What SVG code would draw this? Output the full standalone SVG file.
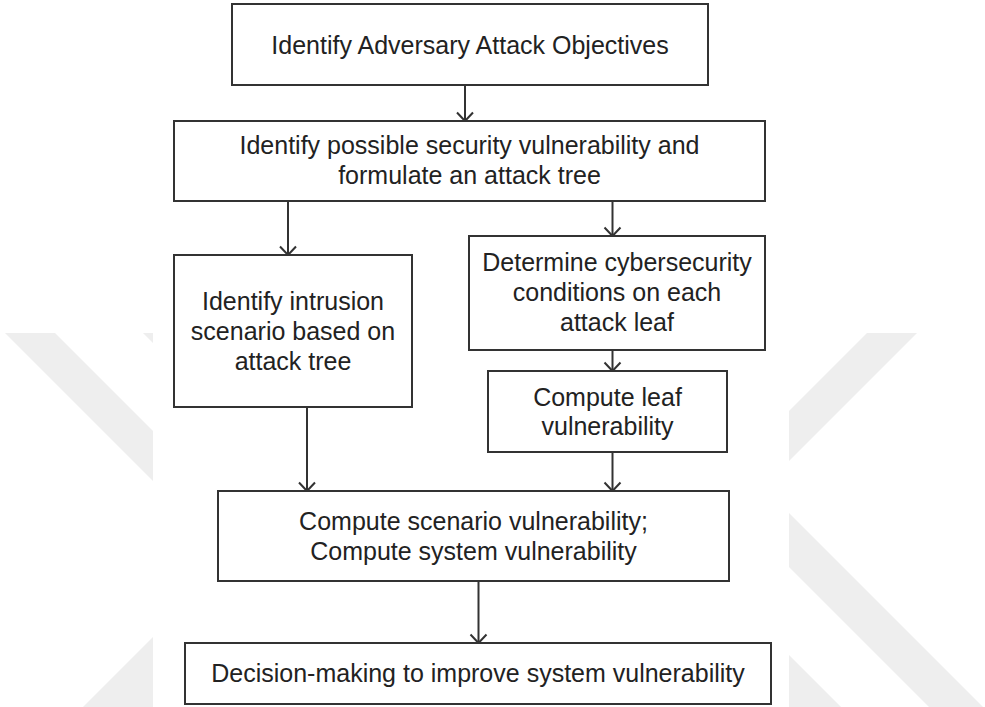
<svg xmlns="http://www.w3.org/2000/svg" width="985" height="707" viewBox="0 0 985 707">
<style>
.box{fill:#fff;stroke:#333;stroke-width:2}
.lbl{font-family:"Liberation Sans",Arial,Helvetica,sans-serif;font-size:25px;fill:#222;text-anchor:middle}
.wm{fill:#eeeeee}
.conn{stroke:#333;stroke-width:2;fill:none;marker-end:url(#arr)}
</style>
<defs>
<marker id="arr" markerUnits="userSpaceOnUse" viewBox="0 0 20 20" markerWidth="20" markerHeight="20" refX="10" refY="10" orient="auto">
<path d="M1.5,2 L10,10 L1.5,18" fill="none" stroke="#333" stroke-width="2"/>
</marker>
</defs>
<rect width="985" height="707" fill="#fff"/>
<g id="watermark">
<polygon class="wm" points="5,333 55,333 153,431 153,481"/>
<polygon class="wm" points="143,333 153,333 153,343"/>
<polygon class="wm" points="153,637 153,707 83,707"/>
<polygon class="wm" points="867,333 917,333 789,461 789,411"/>
<polygon class="wm" points="789,513 983,707 929,707 789,567"/>
<polygon class="wm" points="789,655 841,707 789,707"/>
</g>
<g id="connectors">
<line class="conn" x1="465" y1="85" x2="465" y2="121"/>
<line class="conn" x1="288" y1="201" x2="288" y2="255"/>
<line class="conn" x1="612.5" y1="201" x2="612.5" y2="236"/>
<line class="conn" x1="612.5" y1="350" x2="612.5" y2="371"/>
<line class="conn" x1="307" y1="407" x2="307" y2="491"/>
<line class="conn" x1="612.5" y1="452" x2="612.5" y2="491"/>
<line class="conn" x1="478.5" y1="581" x2="478.5" y2="643"/>
</g>
<g id="n1">
<rect class="box" x="232" y="4" width="476" height="81"/>
<text class="lbl" x="470" y="53.5">Identify Adversary Attack Objectives</text>
</g>
<g id="n2">
<rect class="box" x="174" y="121" width="591" height="80"/>
<text class="lbl" x="469.5" y="154">Identify possible security vulnerability and</text>
<text class="lbl" x="469.5" y="183.5">formulate an attack tree</text>
</g>
<g id="n3">
<rect class="box" x="174" y="255" width="238" height="152"/>
<text class="lbl" x="293" y="310">Identify intrusion</text>
<text class="lbl" x="293" y="340">scenario based on</text>
<text class="lbl" x="293" y="370">attack tree</text>
</g>
<g id="n4">
<rect class="box" x="469" y="236" width="296" height="114"/>
<text class="lbl" x="617" y="271">Determine cybersecurity</text>
<text class="lbl" x="617" y="301">conditions on each</text>
<text class="lbl" x="617" y="331">attack leaf</text>
</g>
<g id="n5">
<rect class="box" x="488" y="371" width="239" height="81"/>
<text class="lbl" x="607.5" y="405.5">Compute leaf</text>
<text class="lbl" x="607.5" y="435">vulnerability</text>
</g>
<g id="n6">
<rect class="box" x="218" y="491" width="511" height="90"/>
<text class="lbl" x="473.5" y="529.5">Compute scenario vulnerability;</text>
<text class="lbl" x="473.5" y="559.5">Compute system vulnerability</text>
</g>
<g id="n7">
<rect class="box" x="185" y="643" width="586" height="61"/>
<text class="lbl" x="478" y="682">Decision-making to improve system vulnerability</text>
</g>
</svg>
